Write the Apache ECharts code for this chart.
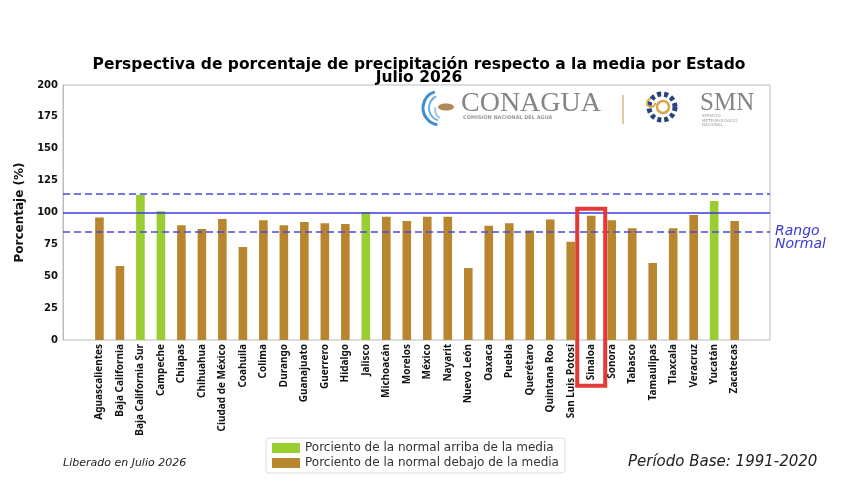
<!DOCTYPE html>
<html>
<head>
<meta charset="utf-8">
<script src="https://cdn.jsdelivr.net/npm/echarts@6/dist/echarts.min.js"></script>
<style>
  html, body { margin: 0; padding: 0; background: #fff; }
  #chart { width: 860px; height: 499px; }
</style>
</head>
<body>
<div id="chart"></div>
<script>
const estados = [
  'Aguascalientes', 'Baja California', 'Baja California Sur', 'Campeche', 'Chiapas',
  'Chihuahua', 'Ciudad de México', 'Coahuila', 'Colima', 'Durango', 'Guanajuato',
  'Guerrero', 'Hidalgo', 'Jalisco', 'Michoacán', 'Morelos', 'México', 'Nayarit',
  'Nuevo León', 'Oaxaca', 'Puebla', 'Querétaro', 'Quintana Roo', 'San Luis Potosí',
  'Sinaloa', 'Sonora', 'Tabasco', 'Tamaulipas', 'Tlaxcala', 'Veracruz', 'Yucatán', 'Zacatecas'
];
const porcentaje = [
  96, 58, 114, 101, 90, 87, 95, 73, 94, 90, 92.5, 91.5, 91, 100.4, 96.7, 93.3,
  96.7, 96.7, 56.5, 89.7, 91.5, 85.8, 94.6, 77, 97.5, 94, 87.6, 60.4, 87.6, 98, 109, 93.3
];
const yTicks = [0, 25, 50, 75, 100, 125, 150, 175, 200];
const media = 100;
const rangoNormal = [85, 115];
const resaltado = 'Sinaloa';

const arriba = porcentaje.map(v => v >= media ? v : '-');
const debajo = porcentaje.map(v => v < media ? v : '-');

const chart = echarts.init(document.getElementById('chart'));

const option = {
  animation: false,
  backgroundColor: '#fff',
  title: {
    text: 'Perspectiva de porcentaje de precipitación respecto a la media por Estado\nJulio 2026',
    left: 414,
    top: 53,
    textAlign: 'center',
    textStyle: {
      fontFamily: 'DejaVu Sans',
      fontWeight: 'bold',
      fontSize: 15.5,
      lineHeight: 13.5,
      color: '#000'
    }
  },
  legend: {
    orient: 'vertical',
    left: 266,
    top: 438,
    itemWidth: 28,
    itemHeight: 10,
    itemGap: 3,
    padding: [4, 6, 4, 6],
    borderColor: '#ddd',
    borderWidth: 1,
    borderRadius: 3,
    icon: 'rect',
    textStyle: { fontFamily: 'DejaVu Sans', fontSize: 12, color: '#333' },
    data: ['Porciento de la normal arriba de la media', 'Porciento de la normal debajo de la media']
  },
  grid: [
    { left: 89.2, right: 115.1, top: 85, bottom: 159 },
    { left: 63, right: 90, top: 85, bottom: 159, show: true, borderColor: '#bbb', borderWidth: 1, z: 0 }
  ],
  xAxis: [
    {
      gridIndex: 0,
      type: 'category',
      data: estados,
      axisLine: { show: false },
      axisTick: { show: false },
      axisLabel: {
        interval: 0,
        rotate: 90,
        margin: 4,
        fontFamily: 'Noto Sans',
        fontWeight: 'bold',
        fontSize: 10,
        color: '#111'
      }
    },
    { gridIndex: 1, type: 'value', min: 0, max: 1, show: false }
  ],
  yAxis: [
    { gridIndex: 0, type: 'value', min: 0, max: 200, show: false },
    {
      gridIndex: 1,
      type: 'value',
      min: 0,
      max: 200,
      interval: 25,
      name: 'Porcentaje (%)',
      nameLocation: 'middle',
      nameGap: 34,
      nameTextStyle: { fontFamily: 'DejaVu Sans', fontWeight: 'bold', fontSize: 12, color: '#111' },
      axisLine: { show: true, lineStyle: { color: '#bbb' } },
      axisTick: { show: false },
      splitLine: { show: false },
      axisLabel: {
        margin: 5,
        fontFamily: 'DejaVu Sans',
        fontWeight: 'bold',
        fontSize: 10,
        color: '#111',
        formatter: v => yTicks.includes(v) ? String(v) : ''
      }
    }
  ],
  series: [
    {
      name: 'Porciento de la normal arriba de la media',
      type: 'bar',
      xAxisIndex: 0,
      yAxisIndex: 0,
      data: arriba,
      barWidth: '42%',
      barGap: '-100%',
      itemStyle: { color: '#9ACD32' },
      z: 2
    },
    {
      name: 'Porciento de la normal debajo de la media',
      type: 'bar',
      xAxisIndex: 0,
      yAxisIndex: 0,
      data: debajo,
      barWidth: '42%',
      itemStyle: { color: '#B8862F' },
      z: 2
    },
    {
      name: 'lineas',
      type: 'line',
      xAxisIndex: 1,
      yAxisIndex: 1,
      data: [],
      z: 3,
      markLine: {
        silent: true,
        symbol: 'none',
        label: { show: false },
        data: [
          { yAxis: media, lineStyle: { color: '#3a3ae0', width: 1.5, type: 'solid' } },
          { yAxis: rangoNormal[0], lineStyle: { color: '#4a4ae0', width: 1.5, type: [7, 4] } },
          { yAxis: rangoNormal[1], lineStyle: { color: '#4a4ae0', width: 1.5, type: [7, 4] } }
        ]
      }
    }
  ],
  graphic: [
    // Rango Normal
    {
      type: 'text', left: 775, top: 224,
      style: { text: 'Rango\nNormal', font: 'italic 14px "DejaVu Sans"', fill: '#3a3ad0', lineHeight: 13 }
    },
    // pie de figura
    {
      type: 'text', left: 63, top: 458,
      style: { text: 'Liberado en Julio 2026', font: 'italic 11px "DejaVu Sans"', fill: '#222' }
    },
    {
      type: 'text', left: 628, top: 455,
      style: { text: 'Período Base: 1991-2020', font: 'italic 15px "DejaVu Sans"', fill: '#222' }
    },
    // logotipos (coordenadas absolutas dentro del grupo)
    {
      type: 'group', z: 5,
      children: [
        { type: 'arc', shape: { cx: 440, cy: 108, r: 17, startAngle: Math.PI * 0.55, endAngle: Math.PI * 1.4 }, style: { stroke: '#3f8fd0', lineWidth: 3, fill: null } },
        { type: 'arc', shape: { cx: 442, cy: 108, r: 13, startAngle: Math.PI * 0.6, endAngle: Math.PI * 1.35 }, style: { stroke: '#6aaee0', lineWidth: 2, fill: null } },
        { type: 'arc', shape: { cx: 444, cy: 110, r: 9, startAngle: Math.PI * 0.65, endAngle: Math.PI * 1.1 }, style: { stroke: '#9ccbe8', lineWidth: 2, fill: null } },
        { type: 'ellipse', shape: { cx: 446, cy: 107, rx: 8, ry: 3.5 }, style: { fill: '#b08a5a' } },
        { type: 'text', x: 461, y: 90, style: { text: 'CONAGUA', font: '28px "Liberation Serif"', fill: '#858585' } },
        { type: 'text', x: 463, y: 115, style: { text: 'COMISIÓN NACIONAL DEL AGUA', font: 'bold 5px "DejaVu Sans"', fill: '#999' } },
        { type: 'line', shape: { x1: 623, y1: 95, x2: 623, y2: 124 }, style: { stroke: '#d4b98a', lineWidth: 1.5 } },
        { type: 'circle', shape: { cx: 662, cy: 107, r: 13 }, style: { stroke: '#27427e', lineWidth: 5, fill: null, lineDash: [4, 3] } },
        { type: 'circle', shape: { cx: 663, cy: 107, r: 6 }, style: { stroke: '#d9a64a', lineWidth: 2.5, fill: null } },
        { type: 'arc', shape: { cx: 651, cy: 103, r: 4, startAngle: 0, endAngle: Math.PI * 1.5 }, style: { stroke: '#d9a64a', lineWidth: 2, fill: null } },
        { type: 'text', x: 700, y: 91, style: { text: 'SMN', font: '25px "Liberation Serif"', fill: '#858585' } },
        { type: 'text', x: 702, y: 114, style: { text: 'SERVICIO\nMETEOROLÓGICO\nNACIONAL', font: '4px "DejaVu Sans"', fill: '#999', lineHeight: 4.5 } }
      ]
    }
  ]
};

chart.setOption(option);

// recuadro rojo sobre el estado resaltado
const idx = estados.indexOf(resaltado);
const cx = chart.convertToPixel({ xAxisIndex: 0 }, idx);
const yTop = chart.convertToPixel({ yAxisIndex: 0 }, porcentaje[idx]);
chart.setOption({
  graphic: [{
    type: 'rect',
    id: 'resaltado',
    z: 10,
    shape: { x: cx - 14, y: yTop - 7, width: 28, height: 177 },
    style: { stroke: '#e53935', lineWidth: 4, fill: null }
  }]
});
</script>
</body>
</html>
